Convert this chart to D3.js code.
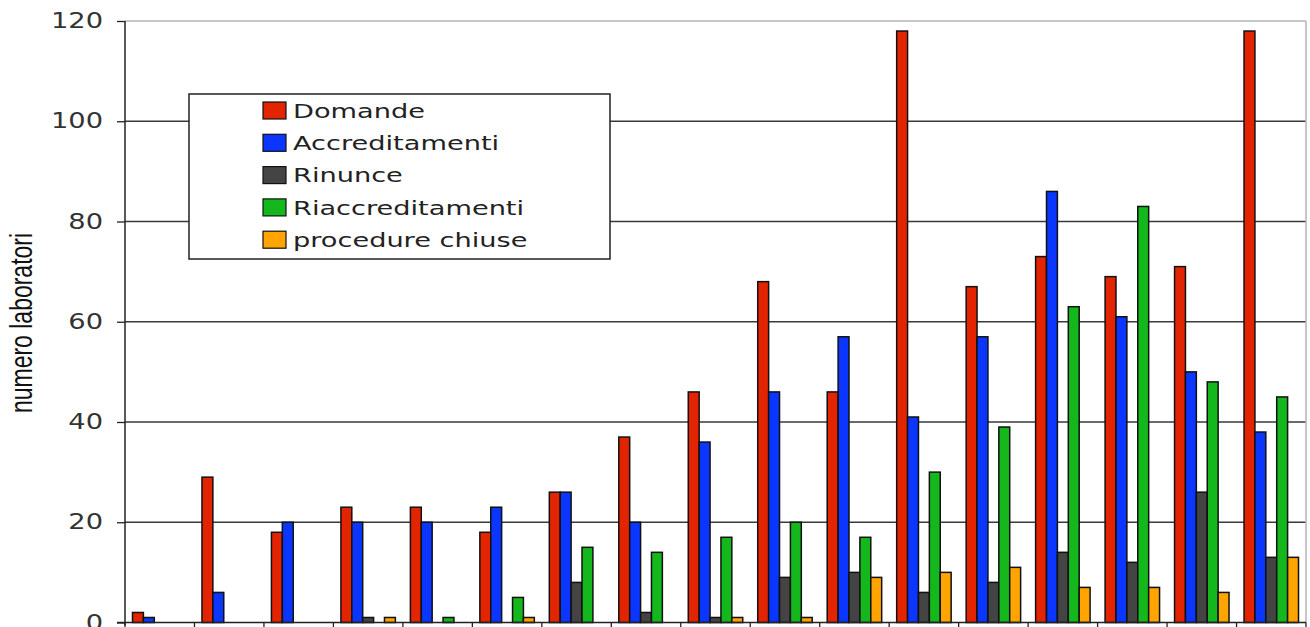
<!DOCTYPE html>
<html>
<head>
<meta charset="utf-8">
<script src="https://cdn.jsdelivr.net/npm/d3@7"></script>
<style>
  body { margin: 0; background: #fff; }
  svg { display: block; }
</style>
</head>
<body>
<div id="chart"></div>
<script>

// one entry per group of bars (x labels are cut off in the original)
const groups = ['1', '2', '3', '4', '5', '6', '7', '8', '9', '10', '11', '12', '13', '14', '15', '16', '17'];

const domande          = [2, 29, 18, 23, 23, 18, 26, 37, 46, 68, 46, 118, 67, 73, 69, 71, 118];
const accreditamenti   = [1, 6, 20, 20, 20, 23, 26, 20, 36, 46, 57, 41, 57, 86, 61, 50, 38];
const rinunce          = [0, 0, 0, 1, 0, 0, 8, 2, 1, 9, 10, 6, 8, 14, 12, 26, 13];
const riaccreditamenti = [0, 0, 0, 0, 1, 5, 15, 14, 17, 20, 17, 30, 39, 63, 83, 48, 45];
const procedureChiuse  = [0, 0, 0, 1, 0, 1, 0, 0, 1, 1, 9, 10, 11, 7, 7, 6, 13];

const seriesNames = ['Domande', 'Accreditamenti', 'Rinunce', 'Riaccreditamenti', 'procedure chiuse'];
const seriesValues = [domande, accreditamenti, rinunce, riaccreditamenti, procedureChiuse];
const seriesColors = ['#e32400', '#0a36ff', '#444444', '#14b81c', '#ffa400'];

const yTicks = [0, 20, 40, 60, 80, 100, 120];

const chartWidth = 1310;
const chartHeight = 627;
const plotLeft = 125;
const plotRight = 1306;
const plotTop = 21;
const plotBottom = 622.5;
const stretch = 1.3;   // the original picture is stretched sideways

let svg = d3.select('#chart').append('svg')
  .attr('width', chartWidth)
  .attr('height', chartHeight);

let x0 = d3.scaleBand()
  .domain(groups)
  .range([plotLeft, plotRight])
  .padding(0);

let x1 = d3.scaleBand()
  .domain(seriesNames)
  .range([7.5, x0.bandwidth() - 7.5])
  .padding(0);

let y = d3.scaleLinear()
  .domain([0, 120])
  .range([plotBottom, plotTop]);

// gridlines
svg.append('g')
  .selectAll('line')
  .data(yTicks.filter(d => d > 0 && d < 120))
  .join('line')
  .attr('x1', plotLeft)
  .attr('x2', plotRight)
  .attr('y1', d => y(d))
  .attr('y2', d => y(d))
  .attr('stroke', '#3a3a3a')
  .attr('stroke-width', 1.3);

// plot border, top and right, light gray
svg.append('line')
  .attr('x1', plotLeft).attr('x2', plotRight)
  .attr('y1', y(120)).attr('y2', y(120))
  .attr('stroke', '#b5b5b5').attr('stroke-width', 1.5);
svg.append('line')
  .attr('x1', plotRight).attr('x2', plotRight)
  .attr('y1', y(120)).attr('y2', y(0))
  .attr('stroke', '#b5b5b5').attr('stroke-width', 1.5);

// bars
let bars = [];
for (let s = 0; s < seriesNames.length; s++) {
  for (let g = 0; g < groups.length; g++) {
    if (seriesValues[s][g] > 0) {
      bars.push({group: groups[g], name: seriesNames[s], value: seriesValues[s][g], color: seriesColors[s]});
    }
  }
}

svg.append('g')
  .selectAll('rect')
  .data(bars)
  .join('rect')
  .attr('x', d => x0(d.group) + x1(d.name))
  .attr('y', d => y(d.value))
  .attr('width', x1.bandwidth())
  .attr('height', d => y(0) - y(d.value))
  .attr('fill', d => d.color)
  .attr('stroke', '#111')
  .attr('stroke-width', 1.5);

// y axis
let yAxis = svg.append('g')
  .attr('transform', 'translate(' + plotLeft + ',0)')
  .call(d3.axisLeft(y).tickValues(yTicks).tickSize(8).tickSizeOuter(0));
yAxis.select('.domain')
  .attr('stroke', '#222')
  .attr('stroke-width', 1.5)
  .attr('d', 'M0,' + plotTop + 'V' + (plotBottom + 3));
yAxis.selectAll('.tick line').attr('stroke', '#222').attr('stroke-width', 1.3);
yAxis.selectAll('.tick text')
  .attr('x', -22 / stretch)
  .attr('transform', 'scale(' + stretch + ',1)')
  .attr('font-family', 'DejaVu Sans')
  .attr('font-size', 21)
  .attr('fill', '#333');

// x axis: baseline and ticks at group boundaries
svg.append('line')
  .attr('x1', plotLeft - 8).attr('x2', plotRight)
  .attr('y1', y(0)).attr('y2', y(0))
  .attr('stroke', '#222').attr('stroke-width', 1.5);
let boundaries = groups.map(g => x0(g)).concat([x0.range()[1]]);
svg.append('g')
  .selectAll('line')
  .data(boundaries)
  .join('line')
  .attr('x1', d => d).attr('x2', d => d)
  .attr('y1', y(0)).attr('y2', y(0) + 6)
  .attr('stroke', '#222').attr('stroke-width', 1.3);

// y axis title
svg.append('text')
  .text('numero laboratori')
  .attr('transform', 'translate(32,323) rotate(-90) scale(1,1.4)')
  .attr('text-anchor', 'middle')
  .attr('font-family', 'Liberation Sans')
  .attr('font-size', 23)
  .attr('fill', '#111');

// legend
let legend = svg.append('g');
legend.append('rect')
  .attr('x', 189).attr('y', 94)
  .attr('width', 421).attr('height', 165)
  .attr('fill', '#fff')
  .attr('stroke', '#222')
  .attr('stroke-width', 1.5);

let rows = legend.selectAll('g.row')
  .data(seriesNames)
  .join('g')
  .attr('class', 'row')
  .attr('transform', (d, i) => 'translate(263,' + (102 + i * 32.3) + ')');
rows.append('rect')
  .attr('width', 23).attr('height', 17)
  .attr('fill', (d, i) => seriesColors[i])
  .attr('stroke', '#111')
  .attr('stroke-width', 1.2);
rows.append('text')
  .text(d => d)
  .attr('transform', 'translate(30,15.7) scale(1.36,1)')
  .attr('font-family', 'DejaVu Sans')
  .attr('font-size', 20)
  .attr('fill', '#222');
</script>
</body>
</html>
